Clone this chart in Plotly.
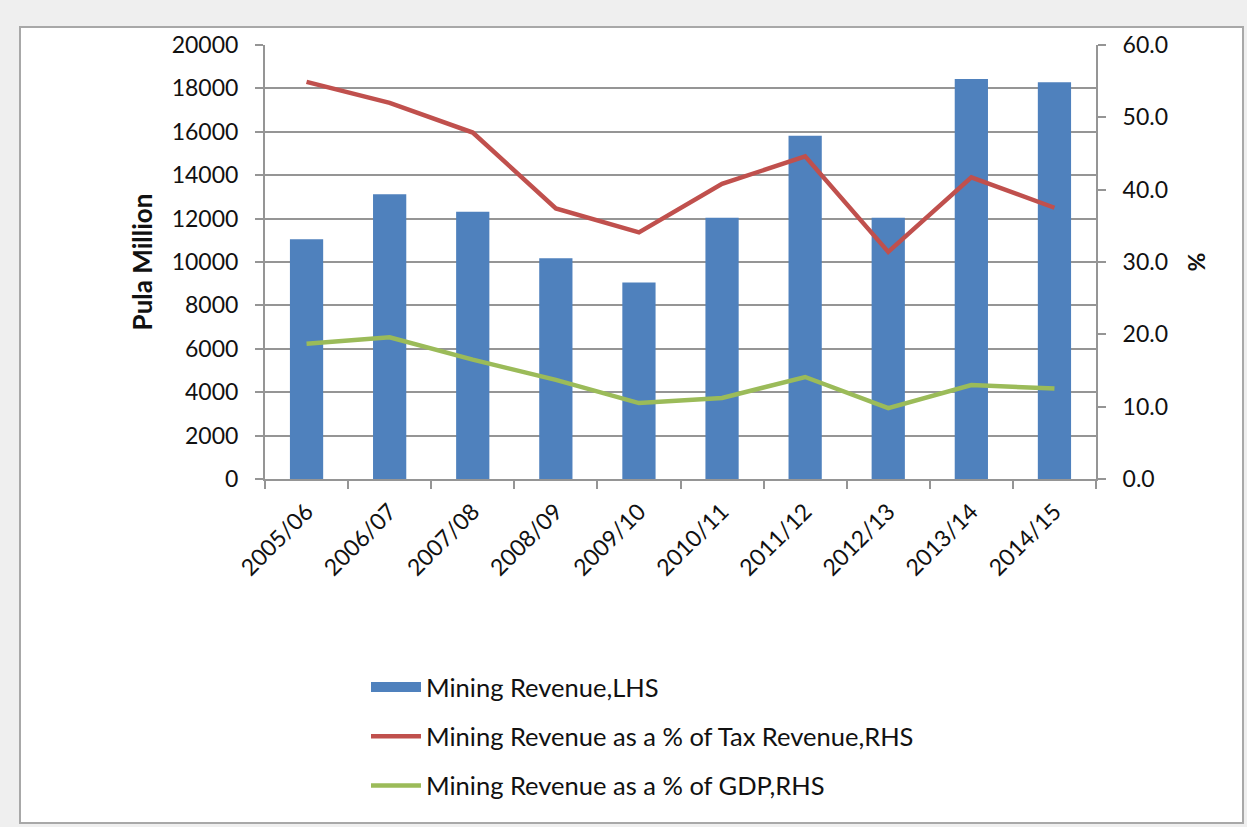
import plotly.graph_objects as go

categories = ["2005/06", "2006/07", "2007/08", "2008/09", "2009/10",
              "2010/11", "2011/12", "2012/13", "2013/14", "2014/15"]
mining_revenue = [11050, 13120, 12320, 10170, 9060, 12040, 15820, 12040, 18430, 18280]
pct_tax_revenue = [54.9, 52.0, 47.9, 37.4, 34.1, 40.8, 44.6, 31.4, 41.7, 37.5]
pct_gdp = [18.7, 19.6, 16.5, 13.7, 10.5, 11.2, 14.1, 9.8, 13.0, 12.5]

left_ticks = list(range(0, 20001, 2000))
right_ticks = [0, 10, 20, 30, 40, 50, 60]

BLUE = "#4F81BD"
RED = "#C0504D"
GREEN = "#9BBB59"
GRID = "#959595"
FONT = "Lato, 'Open Sans', sans-serif"

fig = go.Figure()
fig.add_trace(go.Bar(x=categories, y=mining_revenue, marker_color=BLUE,
                     marker_line_width=0, showlegend=False, name="Mining Revenue,LHS"))
# legend-only swatch for the bar series (wide rectangle like the original)
fig.add_trace(go.Scatter(x=[None], y=[None], mode="lines", name="Mining Revenue,LHS",
                         line=dict(color=BLUE, width=15), legendgroup="a"))
fig.add_trace(go.Scatter(x=categories, y=pct_tax_revenue, mode="lines", yaxis="y2",
                         name="Mining Revenue as a % of Tax Revenue,RHS",
                         line=dict(color=RED, width=4.5), legendgroup="b"))
fig.add_trace(go.Scatter(x=categories, y=pct_gdp, mode="lines", yaxis="y2",
                         name="Mining Revenue as a % of GDP,RHS",
                         line=dict(color=GREEN, width=4.5), legendgroup="c"))

L, R, T, B = 265, 151, 45, 348
W, H = 1247, 827
pw, ph = W - L - R, H - T - B

def px(x):
    return (x - L) / pw

def py(y):
    return (H - B - y) / ph

fig.update_layout(
    width=W, height=H,
    margin=dict(l=L, r=R, t=T, b=B, pad=0),
    paper_bgcolor="#efefef",
    plot_bgcolor="white",
    font=dict(family=FONT, size=22, color="#111111"),
    bargap=0.6,
    showlegend=True,
    legend=dict(x=px(366), y=py(664), xanchor="left", yanchor="top",
                traceorder="grouped", tracegroupgap=13,
                font=dict(family=FONT, size=25.5, color="#111111"),
                bgcolor="rgba(0,0,0,0)", itemwidth=50),
    xaxis=dict(showline=True, linecolor=GRID, linewidth=2, ticks="outside",
               tickson="boundaries", ticklen=8, tickcolor=GRID, tickwidth=2,
               tickangle=-45, showgrid=False, tickfont=dict(size=23),
               ticklabelstandoff=8),
    yaxis=dict(range=[0, 20000], tickvals=left_ticks, showgrid=True, gridcolor=GRID,
               gridwidth=2, showline=True, linecolor=GRID, linewidth=2,
               ticks="outside", ticklen=8, tickcolor=GRID, tickwidth=2,
               zeroline=False, tickformat="d", tickfont=dict(size=23),
               ticklabelstandoff=12,
               title=dict(text="<b>Pula Million</b>", font=dict(size=26), standoff=12)),
    yaxis2=dict(range=[0, 60], tickvals=right_ticks, tickformat=".1f", overlaying="y",
                side="right", showgrid=False, showline=True, linecolor=GRID, linewidth=2,
                ticks="outside", ticklen=8, tickcolor=GRID, tickwidth=2, zeroline=False,
                tickfont=dict(size=23), ticklabelstandoff=12,
                title=dict(text="<b>%</b>", font=dict(size=23), standoff=22)),
    shapes=[dict(type="rect", xref="paper", yref="paper", layer="below",
                 x0=px(20), x1=px(1243), y0=py(823), y1=py(27),
                 fillcolor="white", line=dict(color="#a8a8a8", width=2))],
)

fig.write_html("out.html")
